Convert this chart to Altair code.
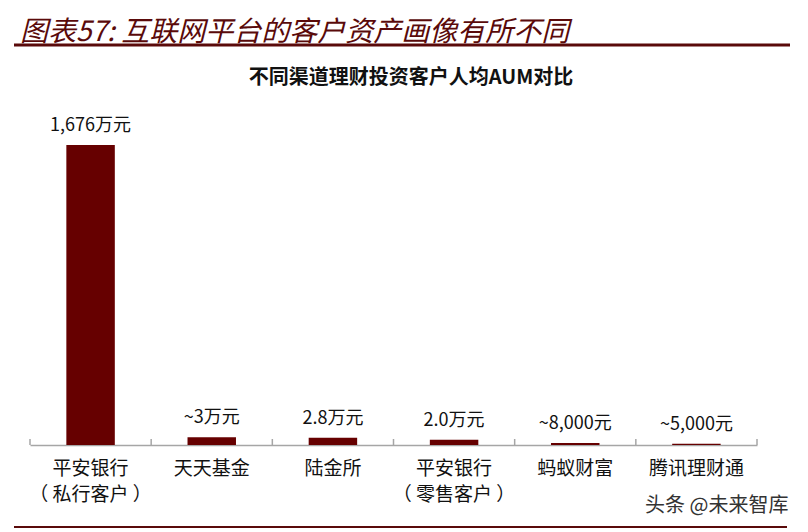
import altair as alt
import pandas as pd

categories = ["平安银行\n（ 私行客户 ）", "天天基金", "陆金所", "平安银行\n（ 零售客户 ）", "蚂蚁财富", "腾讯理财通"]
aum_wan = [1676, 3, 2.8, 2.0, 0.8, 0.5]
value_labels = ["1,676万元", "~3万元", "2.8万元", "2.0万元", "~8,000元", "~5,000元"]
fig_title = "图表57:  互联网平台的客户资产画像有所不同"
chart_title = "不同渠道理财投资客户人均AUM对比"
watermark = "头条 @未来智库"

df = pd.DataFrame({"cat": categories, "aum": aum_wan, "label": value_labels})

W, H = 727, 300
FONT = "Noto Sans CJK SC"
BAR = "#660000"
DARK = "#5a0a0a"
AXIS = "#a6a6a6"

xscale = alt.Scale(paddingInner=0, paddingOuter=0)
x_axis = alt.X(
    "cat:N", sort=categories, scale=xscale,
    axis=alt.Axis(title=None, labelAngle=0, labelExpr="split(datum.label, '\\n')",
                  labelFontSize=19, labelFont=FONT, labelColor="#111", labelPadding=14,
                  labelLineHeight=26, ticks=False, domainColor=AXIS, domainWidth=1.5,
                  labelBaseline="top"))
x_plain = alt.X("cat:N", sort=categories, scale=xscale)
y = alt.Y("aum:Q", scale=alt.Scale(type="symlog", constant=27, domain=[0, 1676]), axis=None)

base = alt.Chart(df)
bars = base.mark_bar(color=BAR, width=alt.RelativeBandSize(0.4)).encode(x=x_axis, y=y)
labels = base.mark_text(baseline="bottom", dy=-10, fontSize=18, font=FONT, color="#111").encode(
    x=x_plain, y=y, text="label:N")
ticks = base.mark_rule(color=AXIS, strokeWidth=1.5).encode(
    x=alt.X("cat:N", sort=categories, scale=xscale, bandPosition=0),
    y=alt.value(H), y2=alt.value(H - 6))
last_tick = base.transform_filter(alt.datum.cat == categories[-1]).mark_rule(color=AXIS, strokeWidth=1.5).encode(
    x=alt.X("cat:N", sort=categories, scale=xscale, bandPosition=1),
    y=alt.value(H), y2=alt.value(H - 6))

deco = pd.DataFrame({"t": [fig_title], "s": [chart_title], "w": [watermark]})
dbase = alt.Chart(deco)
title_txt = dbase.mark_text(align="left", baseline="alphabetic", fontSize=28, fontStyle="italic",
                            font=FONT, color=DARK).encode(x=alt.value(-10), y=alt.value(-104), text="t:N")
top_line = dbase.mark_rule(color=DARK, strokeWidth=3).encode(
    x=alt.value(-16), x2=alt.value(760), y=alt.value(-100))
sub_txt = dbase.mark_text(align="center", baseline="alphabetic", fontSize=20, fontWeight="bold",
                          font=FONT, color="#111").encode(x=alt.value(381), y=alt.value(-61), text="s:N")
wm_txt = dbase.mark_text(align="left", baseline="middle", fontSize=20,
                         font=FONT, color="#333").encode(x=alt.value(615), y=alt.value(361), text="w:N")
bottom_line = dbase.mark_rule(color=DARK, strokeWidth=2).encode(
    x=alt.value(-16), x2=alt.value(757), y=alt.value(382))

chart = alt.layer(bars, labels, ticks, last_tick, title_txt, top_line, sub_txt, wm_txt, bottom_line).properties(
    width=W, height=H, autosize="none",
    padding={"left": 22, "top": 137, "right": 43, "bottom": 83},
    background="white",
).configure_view(stroke=None)

chart.save("out.html", embed_options={"renderer": "svg", "actions": False})
